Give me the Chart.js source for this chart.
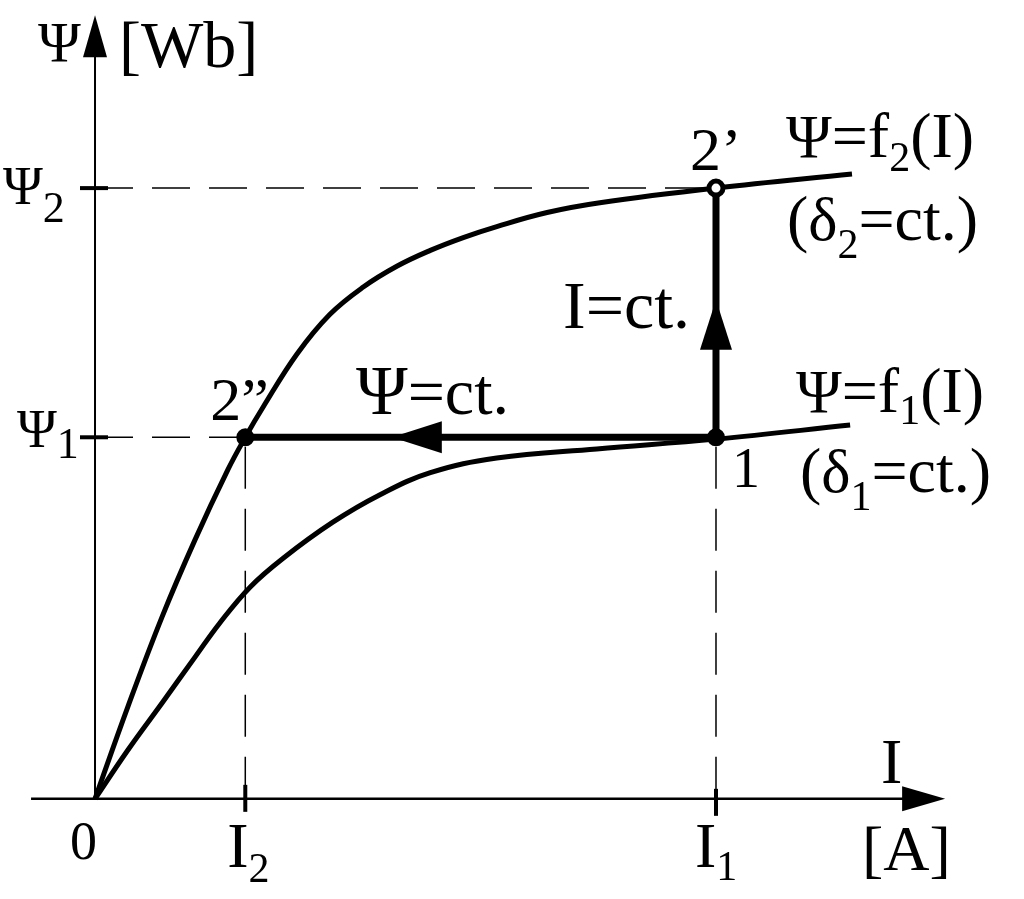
<!DOCTYPE html>
<html>
<head>
<meta charset="utf-8">
<script src="https://cdn.jsdelivr.net/npm/chart.js@4"></script>
<style>
html, body { margin: 0; padding: 0; background: #fff; }
canvas { display: block; }
</style>
</head>
<body>
<canvas id="chart" width="1024" height="899"></canvas>
<script>
// units: I1 = 10, Psi2 = 10
const f2I   = [0, 0.53, 1.08, 1.61, 2.14, 2.42, 2.71, 3.25, 3.78, 4.32, 4.86, 5.40, 5.93, 6.47, 7.28, 8.13, 10, 12.19];
const f2Psi = [0, 1.51, 2.98, 4.24, 5.39, 5.92, 6.42, 7.28, 7.93, 8.38, 8.72, 8.98, 9.19, 9.37, 9.60, 9.76, 10, 10.23];
const f1I   = [0, 0.53, 1.08, 1.61, 2.01, 2.50, 3.03, 3.83, 4.59, 5.40, 6.47, 8.08, 10, 12.16];
const f1Psi = [0, 0.80, 1.57, 2.32, 2.88, 3.47, 3.94, 4.53, 4.98, 5.34, 5.58, 5.73, 5.89, 6.12];

const I1 = 10, I2 = 2.42, Psi1 = 5.92, Psi2 = 10;

// where the arrow tips sit
const arrowPsiConstI = 4.78;   // on the Psi = ct. path
const arrowIConstPsi = 8.17;   // on the I = ct. path
const xAxisFrom = -1.03, xAxisTip = 13.69, yAxisTip = 12.83;

const FONT = '"Liberation Serif", "Times New Roman", serif';

function pts(xs, ys) {
    return xs.map((x, i) => ({ x: x, y: ys[i] }));
}

function line(data, width, dash, order) {
    return {
        data: data,
        showLine: true,
        borderColor: '#000',
        borderWidth: width,
        borderDash: dash || [],
        pointRadius: 0,
        fill: false,
        order: order
    };
}

function arrowHead(ctx, tx, ty, dx, dy, len, half) {
    const bx = tx - dx * len, by = ty - dy * len;
    ctx.beginPath();
    ctx.moveTo(tx, ty);
    ctx.lineTo(bx - dy * half, by + dx * half);
    ctx.lineTo(bx + dy * half, by - dx * half);
    ctx.closePath();
    ctx.fill();
}

function rich(ctx, x, y, runs) {
    runs.forEach(r => {
        ctx.font = r[1] + 'px ' + FONT;
        ctx.fillText(r[0], x, y + (r[2] || 0));
        x += ctx.measureText(r[0]).width;
    });
}

const axesPlugin = {
    id: 'axes',
    beforeDatasetsDraw(chart) {
        const ctx = chart.ctx;
        const sx = chart.scales.x, sy = chart.scales.y;
        const x0 = sx.getPixelForValue(0), y0 = sy.getPixelForValue(0);
        const xt = sx.getPixelForValue(xAxisTip), yt = sy.getPixelForValue(yAxisTip);
        ctx.save();
        ctx.strokeStyle = '#000';
        ctx.fillStyle = '#000';
        ctx.lineWidth = 2.5;
        ctx.beginPath();
        ctx.moveTo(sx.getPixelForValue(xAxisFrom), y0);
        ctx.lineTo(xt - 40, y0);
        ctx.stroke();
        ctx.lineWidth = 2;
        ctx.beginPath();
        ctx.moveTo(x0, y0);
        ctx.lineTo(x0, yt + 40);
        ctx.stroke();
        arrowHead(ctx, xt, y0, 1, 0, 43, 12.5);
        arrowHead(ctx, x0, yt, 0, -1, 42, 12);

        // short thick ticks
        ctx.lineWidth = 4;
        [[I2, -14, 13], [I1, -10, 17]].forEach(t => {
            const p = sx.getPixelForValue(t[0]);
            ctx.beginPath();
            ctx.moveTo(p, y0 + t[1]);
            ctx.lineTo(p, y0 + t[2]);
            ctx.stroke();
        });
        [Psi1, Psi2].forEach(v => {
            const p = sy.getPixelForValue(v);
            ctx.beginPath();
            ctx.moveTo(x0 - 15, p);
            ctx.lineTo(x0 + 13, p);
            ctx.stroke();
        });
        ctx.restore();
    },
    afterDatasetsDraw(chart) {
        const ctx = chart.ctx;
        const sx = chart.scales.x, sy = chart.scales.y;
        const x0 = sx.getPixelForValue(0), y0 = sy.getPixelForValue(0);
        ctx.save();
        ctx.fillStyle = '#000';
        arrowHead(ctx, sx.getPixelForValue(arrowPsiConstI), sy.getPixelForValue(Psi1), -1, 0, 50, 16);
        arrowHead(ctx, sx.getPixelForValue(I1), sy.getPixelForValue(arrowIConstPsi), 0, -1, 50, 16);

        ctx.textBaseline = 'alphabetic';
        const pI1 = sx.getPixelForValue(I1), pI2 = sx.getPixelForValue(I2);
        const pP1 = sy.getPixelForValue(Psi1), pP2 = sy.getPixelForValue(Psi2);

        // axis titles
        rich(ctx, x0 - 57, 62, [['Ψ', 58]]);
        rich(ctx, x0 + 24, 67, [['[Wb]', 66]]);
        rich(ctx, 881, y0 - 16, [['I', 64]]);
        rich(ctx, 862, y0 + 71, [['[A]', 64]]);

        // tick labels
        rich(ctx, 3, pP2 + 16, [['Ψ', 54], ['2', 44, 18]]);
        rich(ctx, 17, pP1 + 10, [['Ψ', 54], ['1', 44, 11]]);
        rich(ctx, x0 - 25, y0 + 60, [['0', 54]]);
        rich(ctx, pI2 - 18, y0 + 68, [['I', 64], ['2', 42, 15]]);
        rich(ctx, pI1 - 21, y0 + 68, [['I', 64], ['1', 42, 13]]);

        // point labels
        rich(ctx, pI1 - 26, pP2 - 18, [['2’', 62]]);
        rich(ctx, pI2 - 35, pP1 - 17, [['2”', 62]]);
        rich(ctx, pI1 + 16, pP1 + 50, [['1', 56]]);

        // path labels
        rich(ctx, 563, 328, [['I=ct.', 68]]);
        rich(ctx, 356, 414, [['Ψ', 70], ['=ct.', 66]]);

        // curve labels
        rich(ctx, 786, 157, [['Ψ', 62], ['=f', 64], ['2', 42, 14], ['(I)', 64]]);
        rich(ctx, 787, 240, [['(', 64], ['δ', 62], ['2', 42, 18], ['=ct.)', 64]]);
        rich(ctx, 796, 412, [['Ψ', 62], ['=f', 64], ['1', 42, 12], ['(I)', 64]]);
        rich(ctx, 800, 492, [['(', 64], ['δ', 62], ['1', 42, 18], ['=ct.)', 64]]);
        ctx.restore();
    }
};

const f2 = line(pts(f2I, f2Psi), 5, null, 2);
f2.tension = 0.4;
const f1 = line(pts(f1I, f1Psi), 5, null, 2);
f1.tension = 0.4;

const guideDash = [38, 19];
const datasets = [
    {
        data: [{ x: I2, y: Psi1 }, { x: I1, y: Psi1 }],
        showLine: false,
        pointRadius: 8,
        pointBackgroundColor: '#000',
        pointBorderColor: '#000',
        pointBorderWidth: 2,
        order: 0
    },
    {
        data: [{ x: I1, y: Psi2 }],
        showLine: false,
        pointRadius: 7,
        pointBackgroundColor: '#fff',
        pointBorderColor: '#000',
        pointBorderWidth: 5,
        order: 0
    },
    line([{ x: I1, y: Psi1 }, { x: I2, y: Psi1 }], 7, null, 1),
    line([{ x: I1, y: Psi1 }, { x: I1, y: Psi2 }], 7, null, 1),
    f2,
    f1,
    line([{ x: 0, y: Psi2 }, { x: I1, y: Psi2 }], 1.5, guideDash, 3),
    line([{ x: 0, y: Psi1 }, { x: I2, y: Psi1 }], 1.5, guideDash, 3),
    line([{ x: I2, y: 0 }, { x: I2, y: Psi1 }], 1.5, [42, 20], 3),
    line([{ x: I1, y: 0 }, { x: I1, y: Psi1 }], 1.5, [42, 20], 3)
];

new Chart(document.getElementById('chart').getContext('2d'), {
    type: 'scatter',
    data: { datasets: datasets },
    options: {
        responsive: false,
        animation: false,
        devicePixelRatio: 1,
        events: [],
        layout: { padding: 0, autoPadding: false },
        plugins: {
            legend: { display: false },
            tooltip: { enabled: false }
        },
        scales: {
            x: { type: 'linear', min: -1.53, max: 14.96, display: false },
            y: { type: 'linear', min: -1.64, max: 13.08, display: false }
        }
    },
    plugins: [axesPlugin]
});
</script>
</body>
</html>
